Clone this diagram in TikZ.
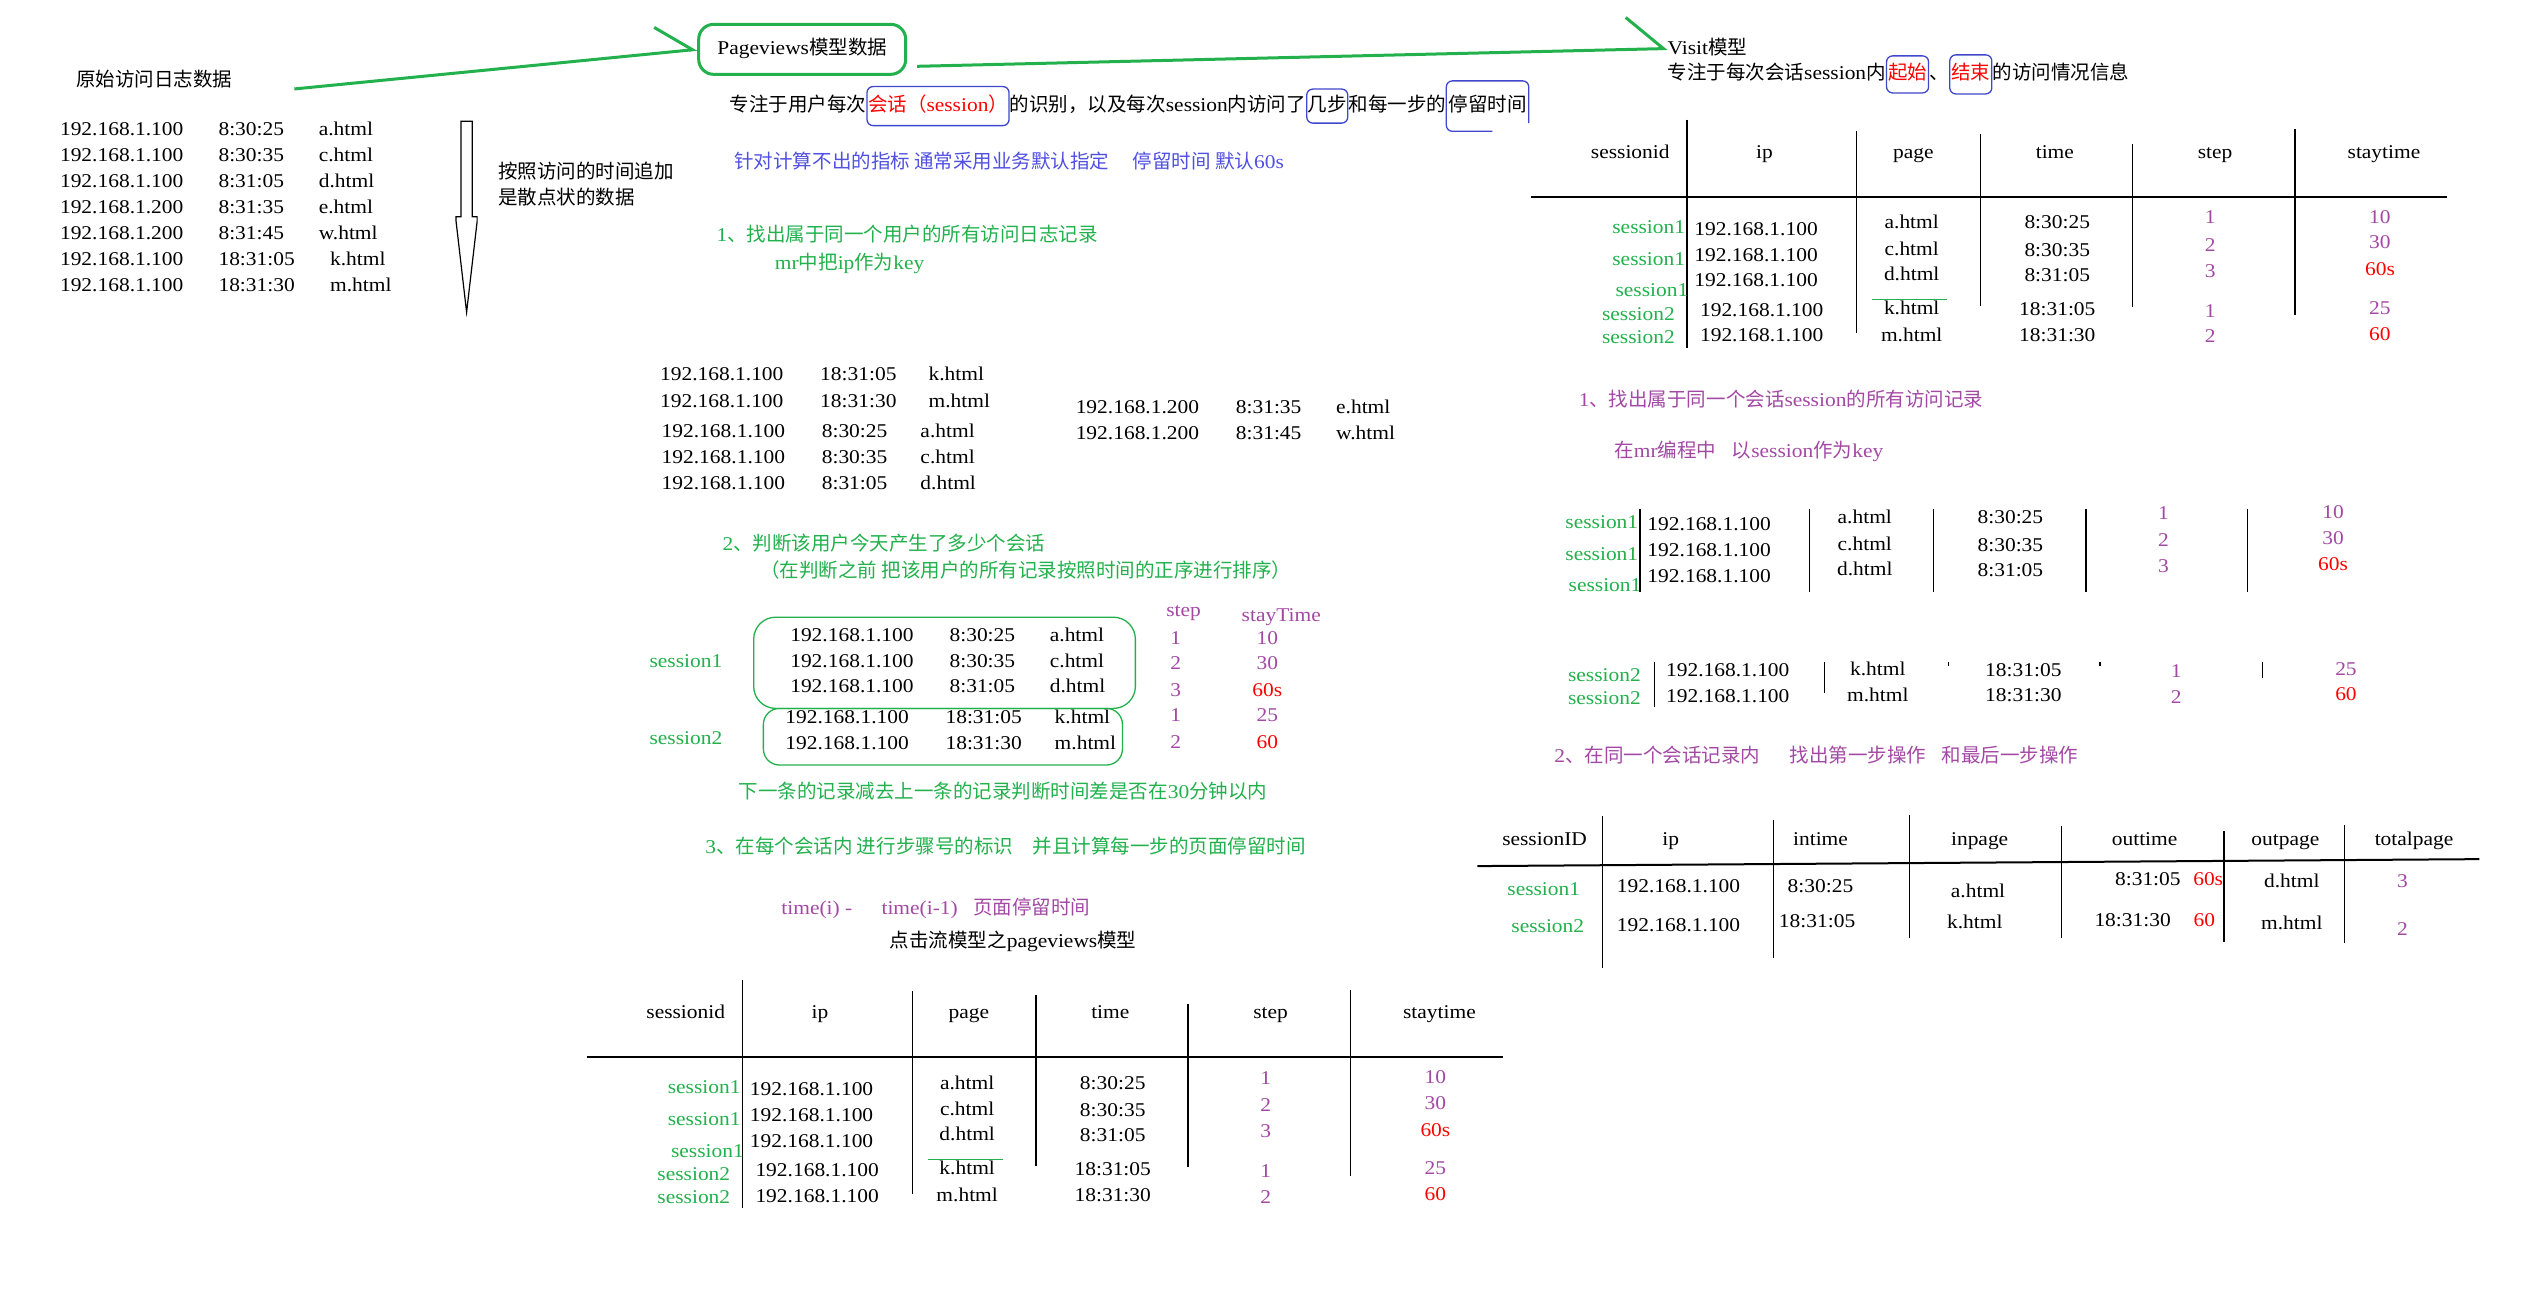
\documentclass[tikz,border=0pt]{standalone}
\usepackage{fontspec}
\setmainfont{Liberation Serif}[FakeStretch=1.1]
\newfontfamily\cjk{Noto Sans CJK SC}
\usetikzlibrary{arrows.meta,positioning,calc}

\definecolor{pvgreen}{RGB}{34,177,76}
\definecolor{pvpurple}{RGB}{163,73,164}
\definecolor{pvblue}{RGB}{63,72,204}
\definecolor{pvhint}{RGB}{80,80,225}
\definecolor{pvred}{RGB}{255,0,0}

% rows of a pageviews table: #1 name, rows #2 to #3
\newcommand\pvrows[3]{%
  \foreach \s/\x/\y [count=\i] in {session1/458/673, session1/458/692.7, session1/460/712, session2/451.6/726.7, session2/451.6/741}
    {\ifnum\i<#2\relax\else\ifnum\i>#3\relax\else \node[sess, anchor=east] (#1-sid\i) at (\x,\y) {\s};\fi\fi}
  \foreach \x/\y [count=\i] in {463.5/674, 463.5/690, 463.5/706, 467/724, 467/740}
    {\ifnum\i<#2\relax\else\ifnum\i>#3\relax\else \node[anchor=west] (#1-ip\i) at (\x,\y) {192.168.1.100};\fi\fi}
  \foreach \p/\y [count=\i] in {a/670, c/686.5, d/702, k/723, m/739.6}
    {\ifnum\i<#2\relax\else\ifnum\i>#3\relax\else \node (#1-pg\i) at (598,\y) {\p.html};\fi\fi}
  \foreach \m/\y [count=\i] in {8:30:25/670, 8:30:35/687, 8:31:05/702.5, 18:31:05/723.6, 18:31:30/739.6}
    {\ifnum\i<#2\relax\else\ifnum\i>#3\relax\else \node (#1-tm\i) at (688,\y) {\m};\fi\fi}
  \foreach \n/\y [count=\i] in {1/667, 2/684, 3/700, 1/724.7, 2/740.5}
    {\ifnum\i<#2\relax\else\ifnum\i>#3\relax\else \node[num] (#1-st\i) at (782.6,\y) {\n};\fi\fi}
  \foreach \v/\c/\y [count=\i] in {10/pvpurple/666.6, 30/pvpurple/682.5, 60s/pvred/699, 25/pvpurple/723, 60/pvred/739}
    {\ifnum\i<#2\relax\else\ifnum\i>#3\relax\else \node[text=\c] (#1-sv\i) at (887.5,\y) {\v};\fi\fi}
}

\begin{document}
\begin{tikzpicture}[x=1.617pt, y=-1.617pt, every node/.style={font=\fontsize{19.5}{23}\selectfont, inner sep=0pt, text height=14pt, text depth=3pt}]
        \tikzstyle{note}=[text=pvgreen]
        \tikzstyle{sess}=[text=pvgreen]
        \tikzstyle{num}=[text=pvpurple]
        \tikzstyle{hot}=[text=pvred]
        \tikzstyle{flow}=[draw=pvgreen, line width=3pt]
        \tikzstyle{ring}=[draw=pvblue, line width=1.3pt, rounded corners=6pt]
        \tikzstyle{grp}=[draw=pvgreen, line width=1.3pt, rounded corners=22pt]
        \tikzstyle{headline}=[line width=2pt]
        \tikzstyle{colline}=[line width=1.3pt]
        \useasboundingbox (0,0) rectangle (1568,809);
        \fill[white] (0,0) rectangle (1568,809);

        % raw access log
        \node[anchor=west] (rawtitle) at (47,50) {\cjk 原始访问日志数据};
        \foreach \ip/\m/\p/\x [count=\i] in {100/8:30:25/a/197, 100/8:30:35/c/197, 100/8:31:05/d/197, 200/8:31:35/e/197, 200/8:31:45/w/197, 100/18:31:05/k/204, 100/18:31:30/m/204}{
            \node[anchor=west] (raw\i-ip) at (37,64.3+16.08*\i) {192.168.1.\ip};
            \node[anchor=west] (raw\i-tm) at (135,64.3+16.08*\i) {\m};
            \node[anchor=west] (raw\i-pg) at (\x,64.3+16.08*\i) {\p.html};
        }
        \draw[line width=1.2pt] (285,75) -- (292,75) -- (292,134) -- (295,134) -- (295,137) -- (288.5,193) -- (282,137) -- (282,134) -- (285,134) -- cycle;
        \node[anchor=west] (order1) at (308,107) {\cjk 按照访问的时间追加};
        \node[anchor=west] (order2) at (308,123) {\cjk 是散点状的数据};

        % pageviews model
        \coordinate (pvstart) at (182,55);
        \node[flow, rounded corners=15pt, minimum width=207pt, minimum height=50pt] (pvbox) at (496,30.5) {Pageviews{\cjk 模型数据}};
        \draw[flow, -{Straight Barb[harpoon, length=36pt, width=52pt]}] (pvstart) -- (pvbox.west);

        \node[anchor=west] (pn1) at (451,65.6) {\cjk 专注于用户每次};
        \node[ring, hot, right=0pt of pn1, inner xsep=1pt, inner ysep=11pt] (psess) {{\cjk 会话（}session{\cjk ）}};
        \node[right=0pt of psess] (pn2) {{\cjk 的识别，以及每次}session{\cjk 内访问了}};
        \node[ring, right=0pt of pn2, inner xsep=1pt, inner ysep=8.5pt] (psteps) {\cjk 几步};
        \node[right=0pt of psteps] (pn3) {\cjk 和每一步的};
        \node[right=0pt of pn3, inner xsep=2pt, inner ysep=16.5pt] (pstay) {\cjk 停留时间};
        \draw[pvblue, line width=1.3pt, rounded corners=6pt] ($(pstay.south west)!0.56!(pstay.south east)$) -- (pstay.south west) -- (pstay.north west) -- (pstay.north east) -- ($(pstay.north east)!0.84!(pstay.south east)$);
        \node[anchor=west, text=pvhint] (hint) at (454,101) {{\cjk 针对计算不出的指标 通常采用业务默认指定\hspace{1.2em}停留时间 默认}60s};

        \node[anchor=west, note] (find1) at (443,146) {1{\cjk 、找出属于同一个用户的所有访问日志记录}};
        \node[anchor=west, note] (find1key) at (479,163) {mr{\cjk 中把}ip{\cjk 作为}key};
        \foreach \ip/\m/\p/\xa/\xb/\xc/\y [count=\i] in {100/18:31:05/k/408/507/574/232, 100/18:31:30/m/408/507/574/248.6, 100/8:30:25/a/409/508/569/267, 100/8:30:35/c/409/508/569/283, 100/8:31:05/d/409/508/569/299, 200/8:31:35/e/665/764/826/252.5, 200/8:31:45/w/665/764/826/268.5}{
            \node[anchor=west] (ipgrp\i-ip) at (\xa,\y) {192.168.1.\ip};
            \node[anchor=west] (ipgrp\i-tm) at (\xb,\y) {\m};
            \node[anchor=west] (ipgrp\i-pg) at (\xc,\y) {\p.html};
        }

        \node[anchor=west, note] (find2) at (446.6,337) {2{\cjk 、判断该用户今天产生了多少个会话}};
        \node[anchor=west, note] (find2sort) at (470,353.7) {\cjk （在判断之前 把该用户的所有记录按照时间的正序进行排序）};
        \node[anchor=west, sess] (s1lab) at (401.5,409.6) {session1};
        \node[anchor=west, sess] (s2lab) at (401.5,457) {session2};
        \foreach \m/\p/\xa/\xb/\xc/\y [count=\i] in {8:30:25/a/488.5/587/649/393, 8:30:35/c/488.5/587/649/409, 8:31:05/d/488.5/587/649/425, 18:31:05/k/485.5/584.5/652/444, 18:31:30/m/485.5/584.5/652/460}{
            \node[anchor=west] (sort\i-ip) at (\xa,\y) {192.168.1.100};
            \node[anchor=west] (sort\i-tm) at (\xb,\y) {\m};
            \node[anchor=west] (sort\i-pg) at (\xc,\y) {\p.html};
        }
        \draw[grp] (466,381.6) rectangle (702,438);
        \draw[grp, rounded corners=16pt] (472,438) rectangle (694,473);
        \node[anchor=west, num] (stephd) at (721,378) {step};
        \node[anchor=west, num] (stayhd) at (767.6,381) {stayTime};
        \foreach \n/\v/\c/\y [count=\i] in {1/10/pvpurple/394.8, 2/30/pvpurple/410.8, 3/60s/pvred/427, 1/25/pvpurple/443, 2/60/pvred/459.5}{
            \node[num] (sort\i-st) at (727,\y) {\n};
            \node[text=\c] (sort\i-sv) at (783.6,\y) {\v};
        }

        \node[anchor=west, note] (gapnote) at (456.6,490) {{\cjk 下一条的记录减去上一条的记录判断时间差是否在}30{\cjk 分钟以内}};
        \node[anchor=west, note] (find3) at (436,524.6) {3{\cjk 、在每个会话内 进行步骤号的标识\hspace{1em}并且计算每一步的页面停留时间}};
        \node[anchor=west, num] (staycalc) at (483,562) {time(i) -\hspace{1.5em}time(i-1)\hspace{0.8em}{\cjk 页面停留时间}};
        \node[anchor=west] (pvtitle) at (550,582.5) {{\cjk 点击流模型之}pageviews{\cjk 模型}};

        % pageviews tables (bottom, and the same one top right)
        \foreach \dx/\dy/\tb in {0/0/pvb, 584/-532/pvt}{
            \begin{scope}[shift={(\dx,\dy)}]
                \draw[headline] (362.7,653.7) -- (929,653.7);
                \foreach \x/\a/\b in {459/606/747, 564/613/738, 640.6/615/721, 734.6/621/721.7, 835/611.8/727}
                    \draw[colline] (\x,\a) -- (\x,\b);
                \foreach \h/\x in {sessionid/424, ip/507, page/599, time/686.5, step/785.6, staytime/890}
                    \node (\tb-\h) at (\x,626.6) {\h};
                \pvrows{\tb}{1}{5}
                \draw[pvgreen, line width=1.3pt] (573.6,717) -- (620,717);
            \end{scope}
        }

        % visit model
        \coordinate (visitstart) at (567,41);
        \node[anchor=west] (visit) at (1031,30) {Visit{\cjk 模型}};
        \draw[flow, -{Straight Barb[harpoon, length=37pt, width=64pt]}] (visitstart) -- (visit.west);
        \node[anchor=west] (vn1) at (1031,46) {{\cjk 专注于每次会话}session{\cjk 内}};
        \node[ring, hot, right=0pt of vn1, inner xsep=1.5pt, inner ysep=10pt] (vbegin) {\cjk 起始};
        \node[right=0pt of vbegin] (vn2) {\cjk 、};
        \node[ring, hot, right=0pt of vn2, inner xsep=1.5pt, inner ysep=11pt] (vend) {\cjk 结束};
        \node[right=0pt of vend] (vn3) {\cjk 的访问情况信息};

        \node[anchor=west, num] (vfind1) at (976,247.8) {1{\cjk 、找出属于同一个会话}session{\cjk 的所有访问记录}};
        \node[anchor=west, num] (vfind1key) at (998,279.3) {{\cjk 在}mr{\cjk 编程中\hspace{0.8em}以}session{\cjk 作为}key};
        \begin{scope}[shift={(555,-349.5)}]
            \pvrows{vs1}{1}{3}
        \end{scope}
        \foreach \x in {1014, 1118.8, 1195.4, 1289.8, 1389.6}
            \draw[colline] (\x,315) -- (\x,366);
        \begin{scope}[shift={(563,-309)}]
            \pvrows{vs2}{4}{5}
        \end{scope}
        \foreach \x/\b in {1023/437.2, 1128/428.6, 1204.8/412, 1298.4/412, 1398.8/419}
            \draw[colline] (\x,409.4) -- (\x,\b);
        \node[anchor=west, num] (vfind2) at (961,468) {2{\cjk 、在同一个会话记录内\hspace{1.5em}找出第一步操作\hspace{0.8em}和最后一步操作}};

        \draw[headline] (913.4,535.5) -- (1533,531.2);
        \foreach \x/\a/\b in {990.7/504.6/598.6, 1096.7/507/592.4, 1180.6/504/580, 1274.5/510.8/580, 1375/513.7/582.4, 1449.4/510.2/583.3}
            \draw[colline] (\x,\a) -- (\x,\b);
        \foreach \h/\x in {sessionID/955, ip/1033, intime/1125.6, inpage/1224, outtime/1326, outpage/1413, totalpage/1492.6}
            \node (vt-\h) at (\x,519.5) {\h};
        \node[sess] (vt-sid1) at (954.5,550.4) {session1};
        \node (vt-ip1) at (1037.8,548.7) {192.168.1.100};
        \node (vt-in1) at (1125.6,548.7) {8:30:25};
        \node (vt-inpg1) at (1223,551.4) {a.html};
        \node (vt-out1) at (1328,544.2) {8:31:05};
        \node[hot] (vt-stay1) at (1365.3,544.2) {60s};
        \node (vt-outpg1) at (1417,545.3) {d.html};
        \node[num] (vt-tot1) at (1485.5,545.3) {3};
        \node[sess] (vt-sid2) at (957,573) {session2};
        \node (vt-ip2) at (1037.8,572.5) {192.168.1.100};
        \node (vt-in2) at (1123.5,570) {18:31:05};
        \node (vt-inpg2) at (1221,570.4) {k.html};
        \node (vt-out2) at (1318.6,569.4) {18:31:30};
        \node[hot] (vt-stay2) at (1363,569.4) {60};
        \node (vt-outpg2) at (1417,571.4) {m.html};
        \node[num] (vt-tot2) at (1485.5,575) {2};
\end{tikzpicture}
\end{document}
